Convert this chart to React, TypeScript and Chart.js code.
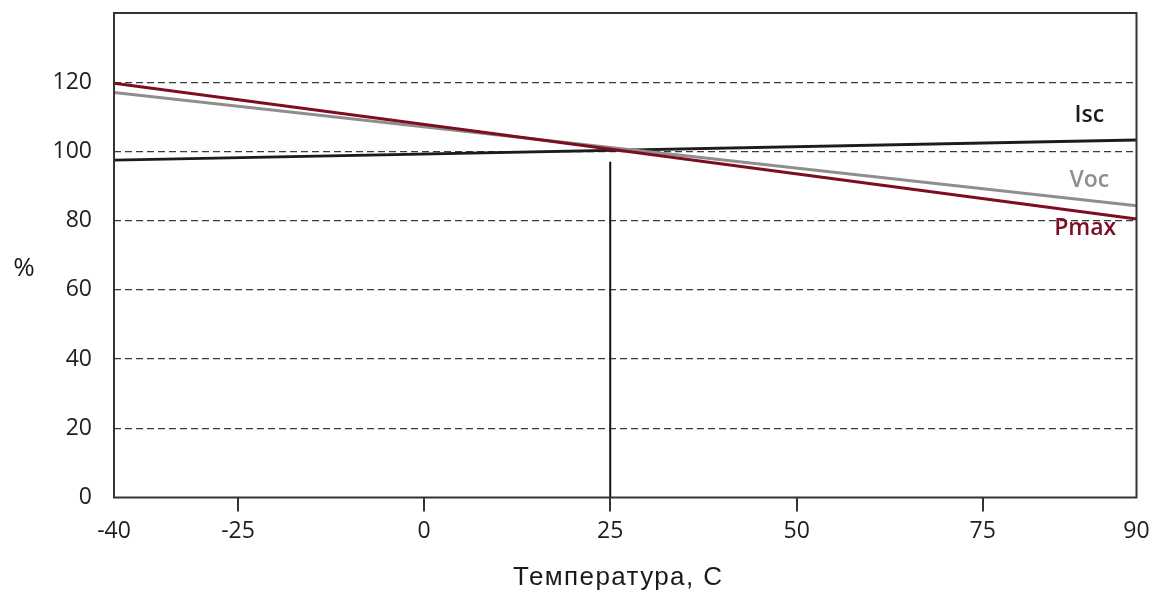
import React, { useEffect, useRef } from "react";
import { Chart, LinearScale, registerables } from "chart.js";

// ---- data ----
const temperatures = [-40, 90];
const iscValues = [97.5, 103.3];
const vocValues = [117.0, 84.3];
const pmaxValues = [119.7, 80.5];
const refTemperature = 25;
const refLineValues = [0, 97];
const xTickLabels = [-40, -25, 0, 25, 50, 75, 90];
const yTickValues = [0, 20, 40, 60, 80, 100, 120];
const seriesNames = ["Isc", "Voc", "Pmax"];

// ---- layout (positions of x ticks along the axis, as a fraction of its length) ----
const X_FRACTIONS = [0, 0.1213, 0.3032, 0.4853, 0.6677, 0.8496, 1];
const LABEL_POS = [
  { x: 85.4, y: 110.4 },
  { x: 85.4, y: 91.6 },
  { x: 85.0, y: 77.7 },
];
const COLORS = { isc: "#1c1c1c", voc: "#8e8e8e", pmax: "#7d0e22" };

function toFrac(v: number): number {
  const a = xTickLabels;
  if (v <= a[0]) return X_FRACTIONS[0] + ((v - a[0]) / (a[1] - a[0])) * (X_FRACTIONS[1] - X_FRACTIONS[0]);
  for (let i = 0; i < a.length - 1; i++) {
    if (v <= a[i + 1]) {
      const t = (v - a[i]) / (a[i + 1] - a[i]);
      return X_FRACTIONS[i] + t * (X_FRACTIONS[i + 1] - X_FRACTIONS[i]);
    }
  }
  const n = a.length - 1;
  return X_FRACTIONS[n] + ((v - a[n]) / (a[n] - a[n - 1])) * (X_FRACTIONS[n] - X_FRACTIONS[n - 1]);
}
function fromFrac(f: number): number {
  const a = xTickLabels;
  for (let i = 0; i < a.length - 1; i++) {
    if (f <= X_FRACTIONS[i + 1] || i === a.length - 2) {
      const t = (f - X_FRACTIONS[i]) / (X_FRACTIONS[i + 1] - X_FRACTIONS[i]);
      return a[i] + t * (a[i + 1] - a[i]);
    }
  }
  return a[a.length - 1];
}

class PiecewiseScale extends LinearScale {
  static id = "piecewise";
  static defaults = LinearScale.defaults;
  getPixelForValue(value: number) {
    if (value === null || value === undefined || isNaN(value)) return NaN;
    return this.getPixelForDecimal(toFrac(value));
  }
  getValueForPixel(pixel: number) {
    return fromFrac(this.getDecimalForPixel(pixel));
  }
}

Chart.register(...registerables, PiecewiseScale as any);

const TICK_FONT = { family: "'Open Sans', sans-serif", size: 23 };

const framePlugin = {
  id: "frameAndText",
  afterDraw(chart: any) {
    const { ctx, chartArea: ca, scales } = chart;
    ctx.save();
    ctx.strokeStyle = "#333";
    ctx.lineWidth = 2;
    ctx.setLineDash([]);
    ctx.strokeRect(ca.left, ca.top, ca.right - ca.left, ca.bottom - ca.top);

    const colors = [COLORS.isc, COLORS.voc, COLORS.pmax];
    ctx.textAlign = "center";
    ctx.textBaseline = "middle";
    seriesNames.forEach((name, i) => {
      ctx.fillStyle = colors[i];
      ctx.font = `600 23px 'Open Sans', sans-serif`;
      const px = scales.x.getPixelForValue(LABEL_POS[i].x);
      const py = scales.y.getPixelForValue(LABEL_POS[i].y);
      ctx.fillText(name, px, py);
    });

    ctx.fillStyle = "#1a1a1a";
    ctx.font = `26px 'Open Sans', sans-serif`;
    ctx.fillText("%", 24, 269);

    ctx.font = `26px 'Liberation Sans', Arial, sans-serif`;
    try {
      (ctx as any).letterSpacing = "1.4px";
    } catch (e) {}
    ctx.fillText("Температура, С", (ca.left + ca.right) / 2 - 7, 578);
    ctx.restore();
  },
};

export default function App() {
  const ref = useRef<HTMLCanvasElement>(null);
  useEffect(() => {
    if (!ref.current) return;
    const mk = (vals: number[]) => temperatures.map((t, i) => ({ x: t, y: vals[i] }));
    const chart = new Chart(ref.current, {
      type: "line",
      data: {
        datasets: [
          {
            label: "Pmax",
            data: mk(pmaxValues),
            borderColor: COLORS.pmax,
            borderWidth: 3,
            pointRadius: 0,
            tension: 0,
          },
          {
            label: "Voc",
            data: mk(vocValues),
            borderColor: COLORS.voc,
            borderWidth: 3,
            pointRadius: 0,
            tension: 0,
          },
          {
            label: "Isc",
            data: mk(iscValues),
            borderColor: COLORS.isc,
            borderWidth: 2.8,
            pointRadius: 0,
            tension: 0,
          },
          {
            label: "ref",
            data: refLineValues.map((v) => ({ x: refTemperature, y: v })),
            borderColor: "#111",
            borderWidth: 2,
            pointRadius: 0,
            tension: 0,
          },
        ],
      },
      options: {
        responsive: false,
        animation: false,
        events: [],
        layout: { padding: { top: 13, right: 20.5, left: 0, bottom: 0 } },
        plugins: { legend: { display: false }, tooltip: { enabled: false } },
        scales: {
          x: {
            type: "piecewise" as any,
            min: -40,
            max: 90,
            afterBuildTicks: (s: any) => {
              s.ticks = xTickLabels.map((v) => ({ value: v }));
            },
            afterFit: (s: any) => {
              s.height = 94.5;
              s.paddingLeft = 0;
              s.paddingRight = 0;
            },
            ticks: {
              autoSkip: false,
              maxRotation: 0,
              padding: 6,
              color: "#1e1e1e",
              font: TICK_FONT,
              callback: (v: any) => String(v),
            },
            grid: {
              drawOnChartArea: false,
              drawTicks: true,
              tickLength: 14,
              lineWidth: 2,
              color: (c: any) =>
                c.tick && (c.tick.value === -40 || c.tick.value === 90) ? "rgba(0,0,0,0)" : "#333",
            },
            border: { display: false },
          },
          y: {
            type: "linear",
            min: 0,
            max: 140,
            afterBuildTicks: (s: any) => {
              s.ticks = [...yTickValues, 140].map((v) => ({ value: v }));
            },
            afterFit: (s: any) => {
              s.width = 114;
              s.paddingTop = 0;
              s.paddingBottom = 0;
            },
            ticks: {
              padding: 22,
              color: "#1e1e1e",
              font: TICK_FONT,
              callback: (v: any) => (yTickValues.includes(Number(v)) ? String(v) : ""),
            },
            grid: {
              drawTicks: false,
              lineWidth: 1.3,
              color: (c: any) =>
                c.tick && c.tick.value > 0 && c.tick.value < 140 ? "#3a3a3a" : "rgba(0,0,0,0)",
            },
            border: { display: false, dash: [7, 4] },
          },
        },
      },
      plugins: [framePlugin],
    });
    return () => chart.destroy();
  }, []);
  return (
    <div style={{ position: "fixed", left: 0, top: 0, width: 1157, height: 592, background: "#fff" }}>
      <canvas ref={ref} width={1157} height={592} />
    </div>
  );
}
